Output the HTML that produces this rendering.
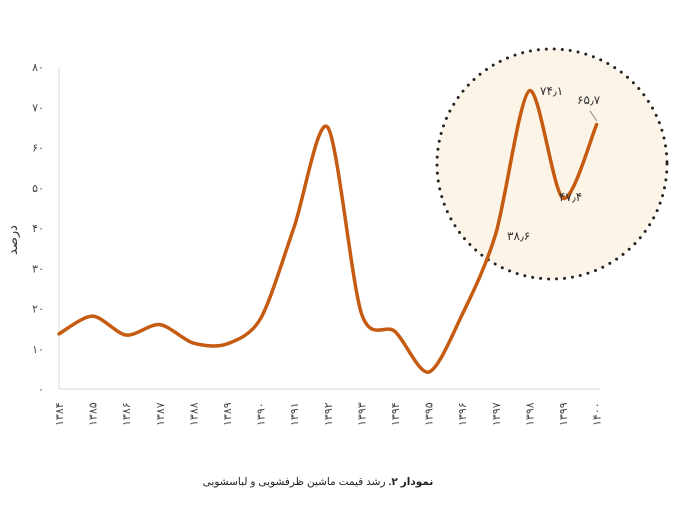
<!DOCTYPE html><html><head><meta charset="utf-8"><style>
body{margin:0;background:#fff;width:695px;height:510px;overflow:hidden}
text{font-family:"Liberation Sans","DejaVu Sans",sans-serif}
</style></head><body>
<svg id="s" width="695" height="510" xmlns="http://www.w3.org/2000/svg">
<circle cx="552" cy="164" r="115" fill="#fdf4e8" stroke="#222" stroke-width="3" stroke-dasharray="0 8" stroke-linecap="round"/>
<line x1="59" y1="67" x2="59" y2="389" stroke="#d9d9d9" stroke-width="1"/>
<line x1="59" y1="389" x2="600" y2="389" stroke="#d9d9d9" stroke-width="1"/>
<g id="yl" font-size="11" fill="#444" text-anchor="end"></g>
<g id="xl" font-size="11" fill="#444"></g>
<text transform="translate(17,240) rotate(-90)" font-size="13" fill="#333" text-anchor="middle" font-family="DejaVu Sans,sans-serif">درصد</text>
<path id="p" fill="none" stroke="#c55a11" stroke-width="3.5" stroke-linejoin="round" stroke-linecap="round"/>
<g font-size="12" fill="#333">
<text x="540" y="95">۷۴٫۱</text>
<text x="577" y="104">۶۵٫۷</text>
<text x="559" y="201">۴۷٫۴</text>
<text x="507" y="240">۳۸٫۶</text>
</g>
<line x1="590" y1="111" x2="597" y2="121" stroke="#888" stroke-width="1"/>
<text x="318" y="485" font-size="10.5" fill="#222" text-anchor="middle" font-family="DejaVu Sans,sans-serif"><tspan font-weight="bold">نمودار ۲.</tspan> رشد قیمت ماشین ظرفشویی و لباسشویی</text>
</svg>
<script>
var fa=function(n){return String(n).replace(/\d/g,function(d){return "۰۱۲۳۴۵۶۷۸۹"[d]})};
var ns="http://www.w3.org/2000/svg";
var yl=document.getElementById('yl');
for(var v=0;v<=80;v+=10){var t=document.createElementNS(ns,'text');t.setAttribute('x',44);t.setAttribute('y',389-v*4.025+4);t.textContent=fa(v);yl.appendChild(t);}
var xl=document.getElementById('xl');
for(var i=0;i<=16;i++){var x=59+i*33.6;var t=document.createElementNS(ns,'text');t.setAttribute('transform','translate('+(x+4)+',426) rotate(-90)');t.textContent=fa(1384+i);xl.appendChild(t);}
var d=[13.7,18.1,13.4,16,11.4,11.2,17.5,40.3,65,18.8,14.3,4.2,18.5,38.6,74.1,47.4,65.7];
var P=d.map(function(v,i){return [59+i*33.6,389-v*4.025]});
var k=7;
var s="M"+P[0][0]+","+P[0][1];
for(var i=0;i<P.length-1;i++){var p0=P[Math.max(i-1,0)],p1=P[i],p2=P[i+1],p3=P[Math.min(i+2,P.length-1)];
s+=" C"+(p1[0]+(p2[0]-p0[0])/k)+","+(p1[1]+(p2[1]-p0[1])/k)+" "+(p2[0]-(p3[0]-p1[0])/k)+","+(p2[1]-(p3[1]-p1[1])/k)+" "+p2[0]+","+p2[1];}
document.getElementById('p').setAttribute('d',s);
</script>
</body></html>
